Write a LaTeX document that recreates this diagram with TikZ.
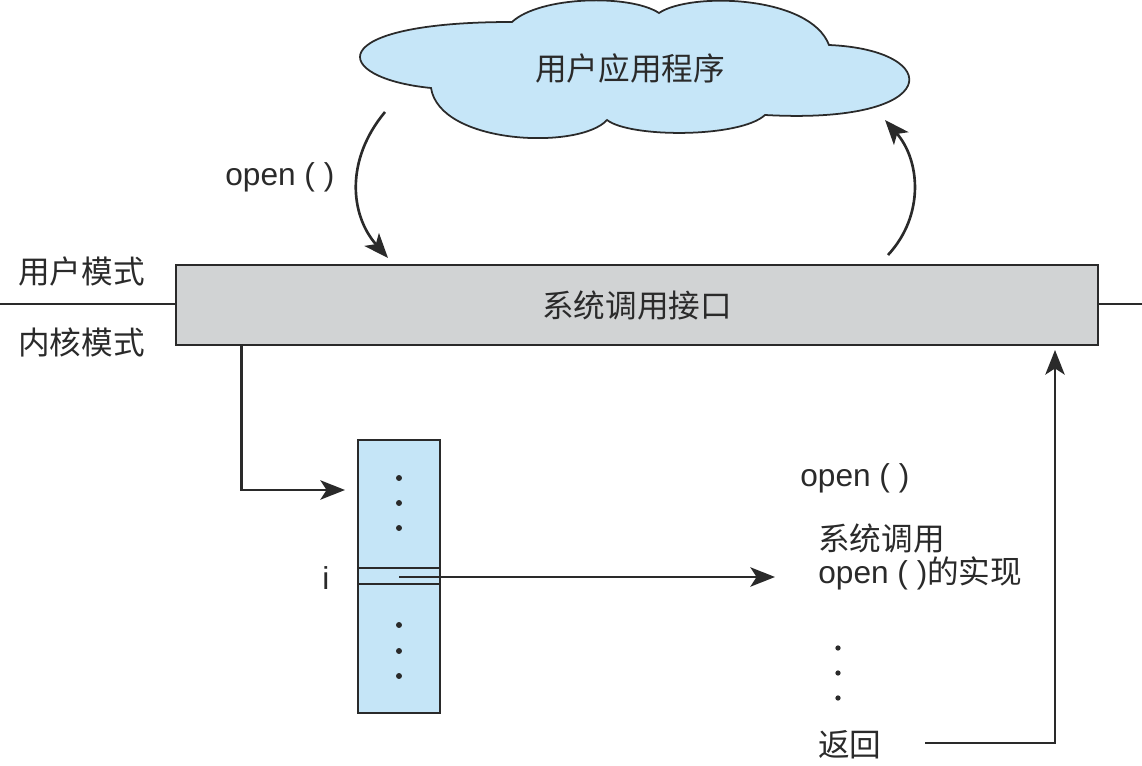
\documentclass[tikz,border=0pt]{standalone}
\usepackage{fontspec}
\setmainfont{Liberation Sans}
\newfontfamily\cjk{Noto Sans CJK SC}
\usetikzlibrary{arrows.meta,calc}

\definecolor{cloudblue}{HTML}{C6E6F8}
\definecolor{tableblue}{HTML}{C5E5F7}
\definecolor{bargray}{HTML}{D1D3D4}
\definecolor{inkgray}{HTML}{2A2A2A}

\tikzset{
  lbl/.style={font=\fontsize{18}{19}\selectfont, inner sep=0pt, text=inkgray},
  zh/.style={lbl, font=\fontsize{18}{19}\selectfont\cjk},
  arr/.style={-{Stealth[length=14pt,width=11pt,inset=3.5pt]}, line width=1.5pt, draw=inkgray},
  thinline/.style={line width=1pt, draw=inkgray}
}

\begin{document}
\begin{tikzpicture}[x=0.02cm,y=-0.02cm]
      \useasboundingbox (0,0) rectangle (1142,766);

      % user program (cloud) and system call interface
      \draw [thinline, fill=cloudblue]
            (431,88) .. controls (330,78) and (320,22) .. (512,22)
                     .. controls (540,-4) and (630,-6) .. (659,13)
                     .. controls (690,-8) and (810,-5) .. (829,45)
                     .. controls (945,50) and (945,125) .. (765,115)
                     .. controls (740,138) and (630,138) .. (607,120)
                     .. controls (580,150) and (440,145) .. (431,88) -- cycle;
      \node (app) [zh] at (630,68) {用户应用程序};
      \draw [thinline] (0,304) -- (176,304);
      \draw [thinline] (1098,304) -- (1142,304);
      \node (sci) [draw, thinline, fill=bargray, minimum width=18.44cm, minimum height=1.6cm,
            zh] at (637,305) {系统调用接口};
      \node (umode) [zh, anchor=west] at (18,272) {用户模式};
      \node (kmode) [zh, anchor=west] at (18,342) {内核模式};
      \node (callopen) [lbl, anchor=west] at (225,177) {open ( )};

      \coordinate (callfrom) at (385,112);
      \coordinate (callto)   at (388,258);
      \coordinate (backfrom) at (888,255);
      \coordinate (backto)   at (885,120);
      \draw [arr] (callfrom) .. controls (345,160) and (350,215) .. (callto);
      \draw [arr] (backfrom) .. controls (925,215) and (920,160) .. (backto);

      % system call table
      \node (tbl) [draw, thinline, fill=tableblue, minimum width=1.64cm, minimum height=5.46cm,
            inner sep=0pt] at (399,576.5) {};
      \draw [thinline] (tbl.west |- 0,568) -- (tbl.east |- 0,568);
      \draw [thinline] (tbl.west |- 0,584) -- (tbl.east |- 0,584);
      \foreach \y in {478,503,528,625,651,676}
        \fill [inkgray] (399,\y) circle (1.7pt);
      \node (idx) [lbl, anchor=center] at (326,578) {i};

      \coordinate (tblin) at (345,490);
      \draw [arr] ($(sci.south west)+(66,0)$) |- (tblin);

      % implementation of open()
      \node (implhead) [lbl, anchor=west] at (800,478) {open ( )};
      \node (impl) [zh, anchor=west, align=left] at (818,557)
            {系统调用\\{\fontspec{Liberation Sans}open ( )}的实现};
      \foreach \y in {648,673,698}
        \fill [inkgray] (838,\y) circle (1.5pt);
      \node (ret) [zh, anchor=west] at (818,745) {返回};

      \coordinate (implin) at (775,577);
      \draw [arr] (399,577) -- (implin);

      \coordinate (retfrom) at (925,743);
      \coordinate (retto) at (1055,350);
      \draw [arr] (retfrom) -| (retto);
\end{tikzpicture}
\end{document}
